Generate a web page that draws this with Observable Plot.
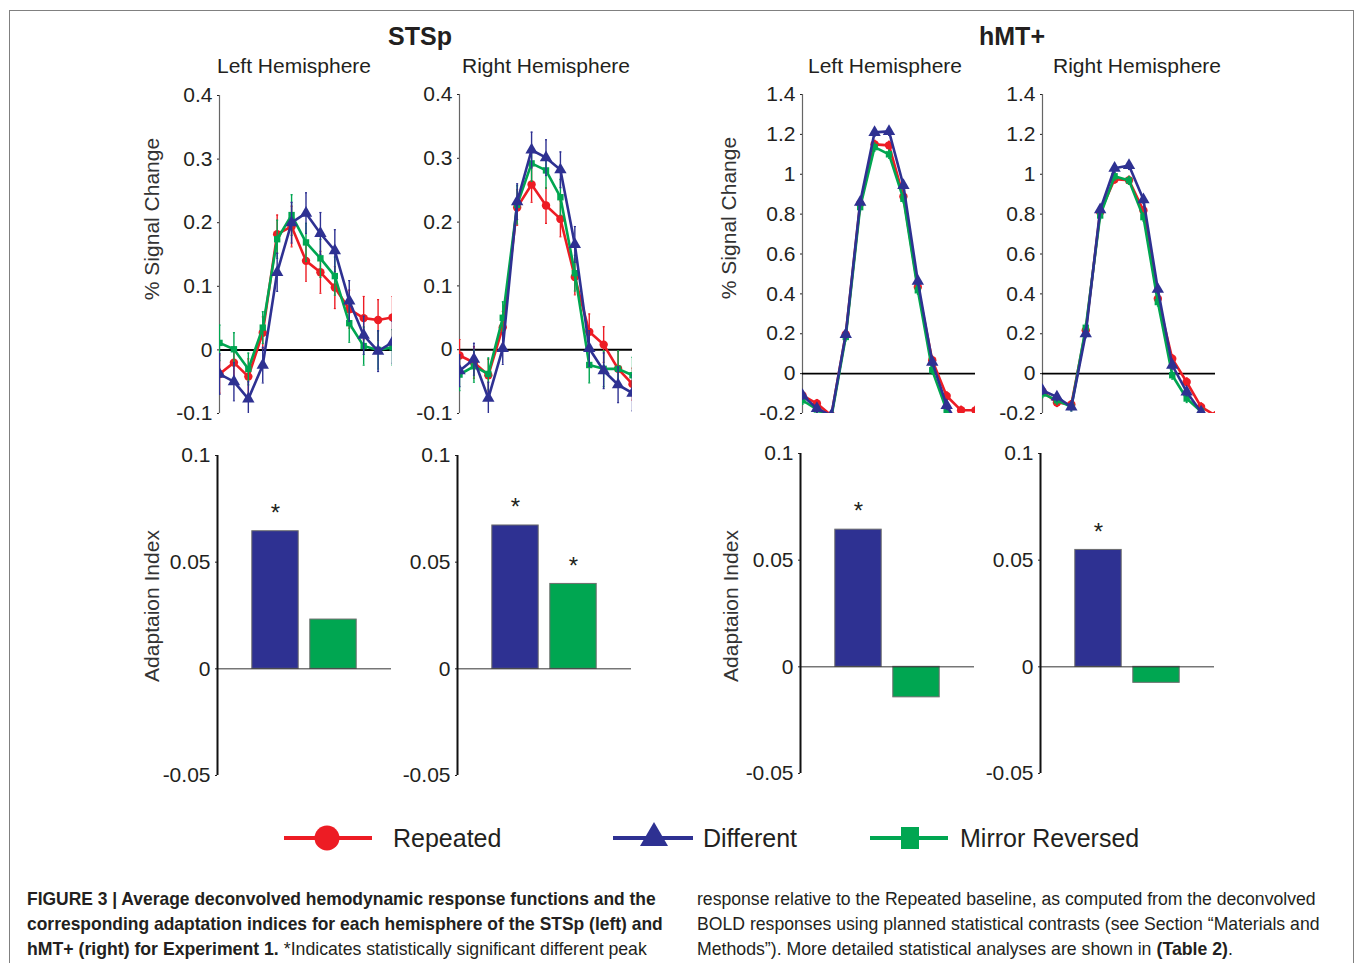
<!DOCTYPE html>
<html>
<head>
<meta charset="utf-8">
<script src="https://cdn.jsdelivr.net/npm/d3@7"></script>
<script src="https://cdn.jsdelivr.net/npm/@observablehq/plot@0.6"></script>
<style>
  html, body { margin: 0; padding: 0; background: #fff; }
  #fig { position: relative; width: 1358px; height: 963px; overflow: hidden; background: #fff;
         font-family: "Liberation Sans", Arial, Helvetica, sans-serif; color: #231f20; }
  .abs { position: absolute; }
  .frame { position: absolute; left: 9px; top: 10px; width: 1345px; height: 1000px; border: 1.5px solid #808080; box-sizing: border-box; }
  .title { position: absolute; font-weight: bold; font-size: 25px; transform: translate(-50%, -50%); white-space: nowrap; }
  .sub { position: absolute; font-size: 21px; transform: translate(-50%, -50%); white-space: nowrap; }
  .ylab { position: absolute; font-size: 21px; white-space: nowrap; transform: translate(-50%, -50%) rotate(-90deg); color: #333; }
  svg { overflow: visible; }
</style>
</head>
<body>
<div id="fig"><div class="frame"></div></div>
<script>
// ---------------- DATA ----------------
const timepoints = [1, 2, 3, 4, 5, 6, 7, 8, 9, 10, 11, 12, 13];
const conditions = ["Repeated", "Different", "Mirror Reversed"];
const condColors = ["#ED1C24", "#2E3192", "#00A651"];
const condSymbols = ["circle", "triangle", "square"];

const regions = ["STSp", "hMT+"];
const hemispheres = ["Left Hemisphere", "Right Hemisphere"];

// STSp, left hemisphere (% signal change)
const stspLeftRepeated     = [-0.038, -0.020, -0.042, 0.027, 0.182, 0.194, 0.140, 0.122, 0.098, 0.064, 0.050, 0.047, 0.051];
const stspLeftRepeatedErr  = [0.030, 0.025, 0.028, 0.025, 0.030, 0.032, 0.032, 0.033, 0.033, 0.030, 0.034, 0.032, 0.033];
const stspLeftDifferent    = [-0.038, -0.050, -0.077, -0.024, 0.122, 0.200, 0.215, 0.183, 0.156, 0.077, 0.023, -0.002, 0.012];
const stspLeftDifferentErr = [0.032, 0.030, 0.027, 0.028, 0.030, 0.032, 0.032, 0.033, 0.033, 0.032, 0.030, 0.032, 0.033];
const stspLeftMirror       = [0.011, 0.001, -0.030, 0.035, 0.174, 0.212, 0.169, 0.144, 0.116, 0.042, 0.006, 0.000, 0.004];
const stspLeftMirrorErr    = [0.028, 0.026, 0.025, 0.025, 0.030, 0.032, 0.030, 0.030, 0.030, 0.030, 0.030, 0.030, 0.028];

// STSp, right hemisphere
const stspRightRepeated     = [-0.009, -0.020, -0.040, 0.035, 0.223, 0.259, 0.226, 0.205, 0.114, 0.028, 0.008, -0.030, -0.054];
const stspRightRepeatedErr  = [0.025, 0.025, 0.025, 0.025, 0.028, 0.028, 0.028, 0.028, 0.028, 0.028, 0.028, 0.028, 0.025];
const stspRightDifferent    = [-0.033, -0.015, -0.076, 0.002, 0.232, 0.313, 0.301, 0.282, 0.165, 0.002, -0.033, -0.055, -0.068];
const stspRightDifferentErr = [0.025, 0.025, 0.025, 0.025, 0.028, 0.028, 0.028, 0.028, 0.028, 0.028, 0.028, 0.028, 0.028];
const stspRightMirror       = [-0.039, -0.026, -0.038, 0.050, 0.227, 0.292, 0.281, 0.239, 0.120, -0.024, -0.030, -0.030, -0.040];
const stspRightMirrorErr    = [0.025, 0.025, 0.025, 0.025, 0.030, 0.028, 0.028, 0.028, 0.028, 0.028, 0.028, 0.028, 0.028];

// hMT+, left hemisphere
const hmtLeftRepeated     = [-0.109, -0.150, -0.210, 0.197, 0.852, 1.150, 1.145, 0.888, 0.434, 0.067, -0.112, -0.184, -0.184];
const hmtLeftRepeatedErr  = [0.02, 0.02, 0.02, 0.02, 0.02, 0.02, 0.02, 0.02, 0.02, 0.02, 0.02, 0.02, 0.02];
const hmtLeftDifferent    = [-0.109, -0.175, -0.210, 0.197, 0.860, 1.210, 1.215, 0.944, 0.464, 0.058, -0.160, -0.280, -0.300];
const hmtLeftDifferentErr = [0.02, 0.02, 0.02, 0.02, 0.02, 0.02, 0.02, 0.02, 0.02, 0.02, 0.02, 0.02, 0.02];
const hmtLeftMirror       = [-0.134, -0.180, -0.220, 0.184, 0.835, 1.136, 1.100, 0.877, 0.418, 0.017, -0.184, -0.250, -0.280];
const hmtLeftMirrorErr    = [0.02, 0.02, 0.02, 0.02, 0.02, 0.02, 0.02, 0.02, 0.02, 0.02, 0.02, 0.02, 0.02];

// hMT+, right hemisphere
const hmtRightRepeated     = [-0.090, -0.145, -0.155, 0.217, 0.810, 0.975, 0.970, 0.818, 0.376, 0.075, -0.042, -0.167, -0.210];
const hmtRightRepeatedErr  = [0.02, 0.02, 0.02, 0.02, 0.02, 0.02, 0.02, 0.02, 0.02, 0.02, 0.02, 0.02, 0.02];
const hmtRightDifferent    = [-0.084, -0.117, -0.167, 0.200, 0.822, 1.030, 1.044, 0.873, 0.423, 0.042, -0.092, -0.192, -0.250];
const hmtRightDifferentErr = [0.02, 0.02, 0.02, 0.02, 0.02, 0.02, 0.02, 0.02, 0.02, 0.02, 0.02, 0.02, 0.02];
const hmtRightMirror       = [-0.100, -0.134, -0.167, 0.230, 0.793, 0.990, 0.969, 0.785, 0.359, -0.008, -0.125, -0.190, -0.250];
const hmtRightMirrorErr    = [0.02, 0.02, 0.02, 0.02, 0.02, 0.02, 0.02, 0.02, 0.02, 0.02, 0.02, 0.02, 0.02];

// Adaptation indices (Different, Mirror Reversed)
const barConditions = ["Different", "Mirror Reversed"];
const barColors = ["#2E3192", "#00A651"];
const stspLeftAI  = [0.0645, 0.0231];
const stspRightAI = [0.0672, 0.0398];
const hmtLeftAI   = [0.0643, -0.0143];
const hmtRightAI  = [0.0548, -0.0075];
const stspLeftSig  = [true, false];
const stspRightSig = [true, true];
const hmtLeftSig   = [true, false];
const hmtRightSig  = [true, false];

// Axis ticks
const stspTicks = [-0.1, 0, 0.1, 0.2, 0.3, 0.4];
const hmtTicks = [-0.2, 0, 0.2, 0.4, 0.6, 0.8, 1, 1.2, 1.4];
const aiTicks = [-0.05, 0, 0.05, 0.1];

// ---------------- DRAWING ----------------
const fig = document.getElementById("fig");
const FONT = '"Liberation Sans", Arial, Helvetica, sans-serif';
const fmt = d => String(+d.toFixed(2));

function place(el, left, top) {
  const wrap = document.createElement("div");
  wrap.className = "abs";
  wrap.style.left = left + "px";
  wrap.style.top = top + "px";
  wrap.appendChild(el);
  fig.appendChild(wrap);
}

function hrfPanel({x0, yTop, yBot, yDomain, yTicks, series, zeroWidth}) {
  const ML = 70, MR = 12, MT = 12, MB = 12, W = 173;
  const marks = [
    Plot.axisY(yTicks, {tickFormat: fmt, tickSize: 2, tickPadding: 5, fontSize: 21, fill: "#231f20", label: null}),
    Plot.ruleX([1], {stroke: "#666", strokeWidth: 1.2}),
    Plot.ruleY([0], {stroke: "#000", strokeWidth: zeroWidth})
  ];
  const radii = [4.2, 4.6, 3.6];
  for (const k of [0, 2, 1]) {
    const [vals, errs] = series[k];
    const data = timepoints.map((t, i) => ({t, v: vals[i], e: errs[i]}));
    const c = condColors[k];
    marks.push(Plot.ruleX(data, {x: "t", y1: d => d.v - d.e, y2: d => d.v + d.e, stroke: c, strokeWidth: 1.4, clip: true}));
    marks.push(Plot.link(data, {x1: d => d.t - 0.07, x2: d => d.t + 0.07, y1: d => d.v + d.e, y2: d => d.v + d.e, stroke: c, strokeWidth: 1.2, clip: true}));
    marks.push(Plot.link(data, {x1: d => d.t - 0.07, x2: d => d.t + 0.07, y1: d => d.v - d.e, y2: d => d.v - d.e, stroke: c, strokeWidth: 1.2, clip: true}));
    marks.push(Plot.line(data, {x: "t", y: "v", stroke: c, strokeWidth: 2.6, clip: true}));
    marks.push(Plot.dot(data, {x: "t", y: "v", symbol: condSymbols[k], fill: c, stroke: "none", r: radii[k], clip: true}));
  }
  const svg = Plot.plot({
    width: W + ML + MR, height: (yBot - yTop) + MT + MB,
    marginLeft: ML, marginRight: MR, marginTop: MT, marginBottom: MB,
    style: {fontFamily: FONT, fontSize: "21px", color: "#231f20", background: "transparent", overflow: "visible"},
    x: {domain: [1, 13], axis: null},
    y: {domain: yDomain},
    marks
  });
  place(svg, x0 - ML, yTop - MT);
}

function barPanel({x0, yTop, yBot, values, sig}) {
  const ML = 70, MR = 12, MT = 12, MB = 12, W = 174;
  const data = values.map((v, i) => ({cond: barConditions[i], pos: i + 1, v, sig: sig[i]}));
  const svg = Plot.plot({
    width: W + ML + MR, height: (yBot - yTop) + MT + MB,
    marginLeft: ML, marginRight: MR, marginTop: MT, marginBottom: MB,
    style: {fontFamily: FONT, fontSize: "21px", color: "#231f20", background: "transparent", overflow: "visible"},
    x: {domain: [0, 3], axis: null},
    y: {domain: [-0.05, 0.1]},
    color: {domain: barConditions, range: barColors},
    marks: [
      Plot.axisY(aiTicks, {tickFormat: fmt, tickSize: 2, tickPadding: 5, fontSize: 21, fill: "#231f20", label: null}),
      Plot.rectY(data, {x1: d => d.pos - 0.4, x2: d => d.pos + 0.4, y1: 0, y2: "v", fill: "cond", stroke: "#6d6d6d", strokeWidth: 1}),
      Plot.ruleY([0], {stroke: "#333", strokeWidth: 1}),
      Plot.ruleX([0], {stroke: "#111", strokeWidth: 2}),
      Plot.text(data.filter(d => d.sig), {x: "pos", y: "v", text: () => "*", dy: -18, fontSize: 24, fill: "#231f20"})
    ]
  });
  place(svg, x0 - ML, yTop - MT);
}

hrfPanel({x0: 219, yTop: 95, yBot: 413, yDomain: [-0.1, 0.4], yTicks: stspTicks, zeroWidth: 2,
  series: [[stspLeftRepeated, stspLeftRepeatedErr], [stspLeftDifferent, stspLeftDifferentErr], [stspLeftMirror, stspLeftMirrorErr]]});
hrfPanel({x0: 459, yTop: 94, yBot: 413, yDomain: [-0.1, 0.4], yTicks: stspTicks, zeroWidth: 2,
  series: [[stspRightRepeated, stspRightRepeatedErr], [stspRightDifferent, stspRightDifferentErr], [stspRightMirror, stspRightMirrorErr]]});
hrfPanel({x0: 802, yTop: 94, yBot: 413, yDomain: [-0.2, 1.4], yTicks: hmtTicks, zeroWidth: 1.6,
  series: [[hmtLeftRepeated, hmtLeftRepeatedErr], [hmtLeftDifferent, hmtLeftDifferentErr], [hmtLeftMirror, hmtLeftMirrorErr]]});
hrfPanel({x0: 1042, yTop: 94, yBot: 413, yDomain: [-0.2, 1.4], yTicks: hmtTicks, zeroWidth: 1.6,
  series: [[hmtRightRepeated, hmtRightRepeatedErr], [hmtRightDifferent, hmtRightDifferentErr], [hmtRightMirror, hmtRightMirrorErr]]});

barPanel({x0: 217, yTop: 455, yBot: 775, values: stspLeftAI, sig: stspLeftSig});
barPanel({x0: 457, yTop: 455, yBot: 775, values: stspRightAI, sig: stspRightSig});
barPanel({x0: 800, yTop: 453, yBot: 773, values: hmtLeftAI, sig: hmtLeftSig});
barPanel({x0: 1040, yTop: 453, yBot: 773, values: hmtRightAI, sig: hmtRightSig});

// ---------------- TEXT ----------------
function addText(cls, txt, x, y) {
  const d = document.createElement("div");
  d.className = cls;
  d.textContent = txt;
  d.style.left = x + "px";
  d.style.top = y + "px";
  fig.appendChild(d);
}
addText("title", regions[0], 420, 36);
addText("title", regions[1], 1012, 36);
addText("sub", hemispheres[0], 294, 66);
addText("sub", hemispheres[1], 546, 66);
addText("sub", hemispheres[0], 885, 66);
addText("sub", hemispheres[1], 1137, 66);
addText("ylab", "% Signal Change", 152, 219);
addText("ylab", "% Signal Change", 729, 218);
addText("ylab", "Adaptaion Index", 152, 606);
addText("ylab", "Adaptaion Index", 731, 606);

// ---------------- LEGEND ----------------
const legendItems = [
  {x1: 284, x2: 372, mx: 327, tx: 393},
  {x1: 613, x2: 693, mx: 654, tx: 703},
  {x1: 870, x2: 948, mx: 910, tx: 960}
];
const leg = d3.create("svg").attr("width", 1358).attr("height", 60)
  .style("position", "absolute").style("left", "0px").style("top", "808px");
const ly = 30;
legendItems.forEach((p, k) => {
  const g = leg.append("g");
  g.append("line").attr("x1", p.x1).attr("x2", p.x2).attr("y1", ly).attr("y2", ly)
    .attr("stroke", condColors[k]).attr("stroke-width", 4);
  if (condSymbols[k] === "circle") {
    g.append("circle").attr("cx", p.mx).attr("cy", ly).attr("r", 12.5).attr("fill", condColors[k]);
  } else if (condSymbols[k] === "triangle") {
    g.append("path").attr("d", `M${p.mx},${ly - 16}L${p.mx + 14},${ly + 8}L${p.mx - 14},${ly + 8}Z`).attr("fill", condColors[k]);
  } else {
    g.append("rect").attr("x", p.mx - 9).attr("y", ly - 11).attr("width", 18).attr("height", 22).attr("fill", condColors[k]);
  }
  g.append("text").attr("x", p.tx).attr("y", ly).attr("dy", "0.35em")
    .attr("font-family", FONT).attr("font-size", 25).attr("fill", "#231f20").text(conditions[k]);
});
fig.appendChild(leg.node());

// ---------------- CAPTION ----------------
const captionLines = [
  {x: 27, y: 905, w: 629, parts: [["FIGURE 3 | Average deconvolved hemodynamic response functions and the", true]]},
  {x: 27, y: 930, w: 636, parts: [["corresponding adaptation indices for each hemisphere of the STSp (left) and", true]]},
  {x: 27, y: 955, w: 620, parts: [["hMT+ (right) for Experiment 1.", true], [" *Indicates statistically significant different peak", false]]},
  {x: 697, y: 905, w: 619, parts: [["response relative to the Repeated baseline, as computed from the deconvolved", false]]},
  {x: 697, y: 930, w: 623, parts: [["BOLD responses using planned statistical contrasts (see Section \u201cMaterials and", false]]},
  {x: 697, y: 955, w: 536, parts: [["Methods\u201d). More detailed statistical analyses are shown in ", false], ["(Table 2)", true], [".", false]]}
];
const cap = d3.create("svg").attr("width", 1358).attr("height", 100)
  .style("position", "absolute").style("left", "0px").style("top", "870px");
fig.appendChild(cap.node());
captionLines.forEach(l => {
  const g = cap.append("g");
  let cx = 0;
  l.parts.forEach(([s, b]) => {
    const t = g.append("text").attr("x", cx).attr("y", 0)
      .attr("font-family", '"Liberation Sans Narrow", "Liberation Sans", Arial, sans-serif')
      .attr("font-size", 18).attr("fill", "#231f20")
      .attr("font-weight", b ? "bold" : "normal")
      .style("white-space", "pre")
      .attr("xml:space", "preserve")
      .text(s);
    cx += t.node().getComputedTextLength();
  });
  const k = l.w / cx;
  g.attr("transform", `translate(${l.x},${l.y - 870}) scale(${k},1)`);
});
</script>
</body>
</html>
